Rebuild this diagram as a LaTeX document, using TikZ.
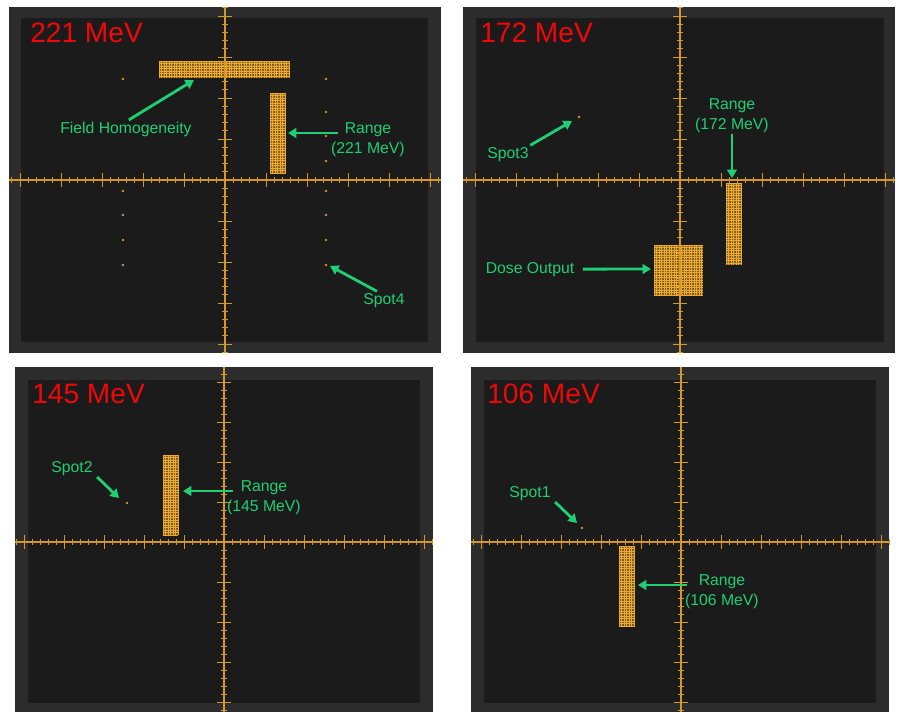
\documentclass[tikz,border=0pt]{standalone}
\usepackage{fontspec}
\setmainfont{Liberation Sans}
\usetikzlibrary{arrows.meta}

\definecolor{frame}{RGB}{44,44,44}
\definecolor{screen}{RGB}{27,27,27}
\definecolor{scopeline}{RGB}{215,150,40}
\definecolor{beam}{RGB}{235,172,48}
\definecolor{beamdark}{RGB}{125,88,22}
\definecolor{notegreen}{RGB}{30,208,115}
\definecolor{energyred}{RGB}{240,8,8}

\tikzset{
  axis/.style={draw=scopeline, line width=1.1pt},
  tick/.style={draw=scopeline, line width=0.6pt},
  beamline/.style={draw=beam, line width=0.45pt},
  note/.style={text=notegreen, font=\fontsize{11.2}{13}\selectfont, inner sep=1pt, anchor=base},
  energy/.style={text=energyred, font=\fontsize{20}{24}\selectfont, anchor=base west, inner sep=0pt},
  pointer/.style={draw=notegreen, line width=2pt, -{Triangle[length=6pt,width=7pt]}},
}

% cross hair with ticks: cx, cy, left, right, top, bottom, major step
\newcommand{\crosshair}[7]{%
  \draw[axis] (#3,#2) -- (#4,#2);
  \draw[axis] (#1,#5) -- (#1,#6);
  \foreach \k in {-26,...,26}
    \draw[tick] ({#1+\k*#7/5},{#2-3}) -- ({#1+\k*#7/5},{#2+3});
  \foreach \k in {-5,...,5}
    \draw[tick] ({#1+\k*#7},{#2-7}) -- ({#1+\k*#7},{#2+7});
  \foreach \k in {-21,...,21}
    \draw[tick] ({#1-3},{#2+\k*#7/5}) -- ({#1+3},{#2+\k*#7/5});
  \foreach \k in {-4,...,4}
    \draw[tick] ({#1-7},{#2+\k*#7}) -- ({#1+7},{#2+\k*#7});
}

% scanned spot field: x0, y0, x1, y1
\newcommand{\spotfield}[4]{%
  \fill[beamdark] (#1,#2) rectangle (#3,#4);
  \pgfmathtruncatemacro\ncol{(#3-#1)/2.5}
  \pgfmathtruncatemacro\nrow{(#4-#2)/2.5}
  \foreach \i in {0,...,\ncol}
    \draw[beamline] ({#1+\i*2.5},#2) -- ({#1+\i*2.5},#4);
  \foreach \j in {0,...,\nrow}
    \draw[beamline] (#1,{#2+\j*2.5}) -- (#3,{#2+\j*2.5});
}

\begin{document}
\begin{tikzpicture}[x=0.025cm, y=-0.025cm]
\useasboundingbox (0,0) rectangle (897,712);
\fill[white] (0,0) rectangle (897,712);

% 221 MeV
\fill[frame] (9,7) rectangle (441,353);
\fill[screen] (21,18) rectangle (428,342);
\spotfield{159}{61}{290}{78}
\spotfield{270}{93}{285}{174}
\crosshair{225}{180}{9}{441}{7}{353}{41}
\foreach \y in {79,191,215,240,265}
  \fill[scopeline] (123,\y) circle (1pt);
\foreach \y in {79,112,136,161,191,215,240,265}
  \fill[scopeline] (326,\y) circle (1pt);
\node[energy] (e221) at (30,42) {221 MeV};
\node[note] (fh) at (126,133) {Field Homogeneity};
\coordinate (fhTip) at (194,80);
\draw[pointer] ([xshift=2pt]fh.north) -- (fhTip);
\node[note] (rA) at (368,133) {Range};
\node[note] (rAe) at (368,153) {(221 MeV)};
\coordinate (rATip) at (288,133);
\draw[pointer] ([xshift=-3.8pt]rA.base west) -- (rATip);
\node[note] (sp4) at (384,304) {Spot4};
\coordinate (sp4Tip) at (330,266);
\draw[pointer] ([xshift=-5pt]sp4.north) -- (sp4Tip);

% 172 MeV
\fill[frame] (463,7) rectangle (895,353);
\fill[screen] (476,18) rectangle (884,342);
\spotfield{726}{183}{741}{265}
\spotfield{654}{245}{703}{295}
\crosshair{680}{180}{463}{895}{7}{353}{41}
\fill[scopeline] (579,117) circle (1pt);
\node[energy] (e172) at (480,42) {172 MeV};
\node[note] (sp3) at (508,158) {Spot3};
\coordinate (sp3Tip) at (572,121);
\draw[pointer] (sp3.north east) -- (sp3Tip);
\node[note] (rB) at (732,109) {Range};
\node[note] (rBe) at (732,129) {(172 MeV)};
\coordinate (rBTip) at (732,178);
\draw[pointer] (rBe.south) -- (rBTip);
\node[note] (dose) at (530,273) {Dose Output};
\coordinate (doseTip) at (651,269);
\draw[pointer] ([xshift=5pt]dose.east) -- (doseTip);

% 145 MeV
\fill[frame] (15,367) rectangle (433,714);
\fill[screen] (28,380) rectangle (420,703);
\spotfield{163}{455}{178}{535}
\crosshair{224}{542}{15}{433}{367}{714}{40}
\fill[scopeline] (127,503) circle (1pt);
\node[energy] (e145) at (32,403) {145 MeV};
\node[note] (sp2) at (72,472) {Spot2};
\coordinate (sp2Tip) at (119,498);
\draw[pointer] ([xshift=2pt]sp2.south east) -- (sp2Tip);
\node[note] (rC) at (264,491) {Range};
\node[note] (rCe) at (264,511) {(145 MeV)};
\coordinate (rCTip) at (183,491);
\draw[pointer] ([xshift=-4.5pt]rC.base west) -- (rCTip);

% 106 MeV
\fill[frame] (471,367) rectangle (889,714);
\fill[screen] (484,380) rectangle (876,703);
\spotfield{619}{546}{634}{627}
\crosshair{681}{542}{471}{889}{367}{714}{40}
\fill[scopeline] (582,528) circle (1pt);
\node[energy] (e106) at (487,403) {106 MeV};
\node[note] (sp1) at (530,497) {Spot1};
\coordinate (sp1Tip) at (577,523);
\draw[pointer] ([xshift=2pt]sp1.south east) -- (sp1Tip);
\node[note] (rD) at (722,585) {Range};
\node[note] (rDe) at (722,605) {(106 MeV)};
\coordinate (rDTip) at (638,585);
\draw[pointer] ([xshift=-7.4pt]rD.base west) -- (rDTip);
\end{tikzpicture}
\end{document}
